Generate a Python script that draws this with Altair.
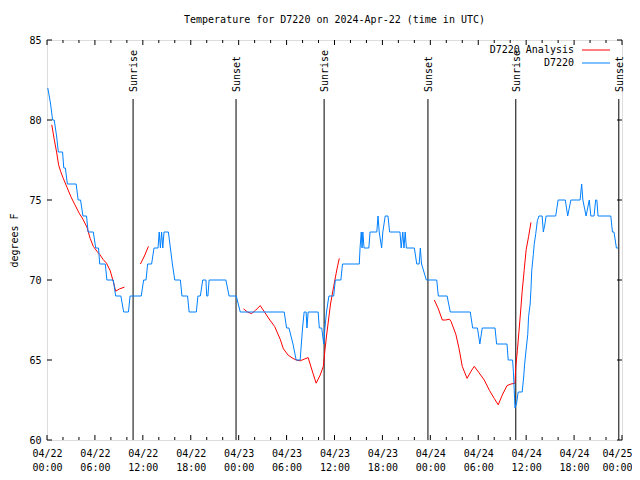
import json
import altair as alt
import pandas as pd

TITLE = "Temperature for D7220 on 2024-Apr-22 (time in UTC)"
Y_TITLE = "degrees F"
SERIES = ["D7220 Analysis", "D7220"]
COLORS = ["#ff0000", "#0080ff"]
FONT = "DejaVu Sans Mono"

# hours since 2024-04-22 00:00 UTC
BLUE_H = [0.1, 0.45, 0.7, 0.9, 1.2, 1.42, 1.95, 2.1, 2.3, 2.55, 3.65, 3.9, 4.2, 4.5, 4.95,
          5.15, 5.8, 6.1, 6.45, 6.6, 7.3, 7.5, 8.3, 8.6, 9.25, 9.6, 10.2, 10.4, 11.8, 12.1,
          12.4, 12.6, 13.1, 13.4, 13.9, 14.05, 14.2, 14.35, 14.5, 14.65, 15.2, 15.45, 15.7,
          16.0, 16.7, 16.9, 17.6, 17.8, 18.7, 18.9, 19.2, 19.5, 19.9, 20.0, 20.15, 20.3,
          22.4, 22.8, 23.7, 24.2, 29.7, 30.0, 30.3, 30.8, 31.2, 31.7, 31.85, 32.0, 32.2,
          32.45, 32.55, 32.7, 33.95, 34.1, 34.4, 34.65, 34.8, 35.0, 35.3, 35.9, 36.1, 36.8,
          37.0, 39.1, 39.2, 39.35, 39.45, 39.55, 39.7, 40.3, 40.45, 41.3, 41.45, 41.6, 41.9,
          42.05, 42.35, 42.7, 42.9, 44.2, 44.35, 44.55, 44.7, 44.85, 45.0, 46.0, 46.3, 46.6,
          46.75, 46.9, 47.2, 47.5, 48.8, 49.0, 50.1, 50.5, 53.0, 53.3, 53.9, 54.2, 54.5,
          56.1, 56.3, 57.6, 57.75, 58.3, 58.4, 58.6, 58.8, 59.0, 59.5, 59.7, 59.8, 59.96,
          60.2, 60.3, 60.5, 60.6, 60.7, 60.9, 61.0, 61.2, 61.4, 61.6, 62.0, 62.15, 62.35,
          62.5, 63.7, 64.0, 64.9, 65.2, 65.4, 65.6, 66.75, 66.95, 67.1, 67.3, 67.5, 67.9,
          68.1, 68.5, 68.7, 68.85, 69.0, 70.6, 70.8, 71.0, 71.3, 71.5]
BLUE_T = [82, 81, 80, 80, 79, 78, 78, 77, 77, 76, 76, 75, 75, 74, 74,
          73, 73, 72, 72, 71, 71, 70, 70, 69, 69, 68, 68, 69, 69, 70,
          70, 71, 71, 72, 72, 73, 72, 73, 72, 73, 73, 72, 71,
          70, 70, 69, 69, 68, 68, 69, 69, 70, 70, 69, 69, 70,
          70, 69, 69, 68, 68, 67, 67, 66, 65, 65, 66, 67, 68,
          68, 67, 68, 68, 67, 67, 66, 67, 68, 69, 69, 70, 70,
          71, 71, 72, 73, 72, 73, 72, 72, 73, 73, 74, 73, 72,
          73, 74, 74, 73, 73, 72, 73, 72, 73, 72, 72, 71, 71,
          72, 71, 70.5, 70, 70, 69, 69, 68, 68, 67, 67, 66, 67,
          67, 66, 66, 65, 65, 64.3, 62, 62.3, 63, 63, 64, 64.7, 65.5,
          66.6, 67.7, 68.5, 69.4, 70.6, 71.6, 72.2, 72.9, 73.7, 74, 74, 73, 73.5,
          74, 74, 75, 75, 74, 74.5, 75, 75, 76, 75, 74.5, 74, 75,
          74, 74, 75, 75, 74, 74, 73, 73, 72, 72]

RED_H = [0.6, 0.9, 1.2, 1.45, 1.7, 2.0, 2.5, 3.0, 3.5, 4.0, 4.5, 5.0, 5.4, 5.8, 6.25, 6.6,
         7.0, 7.45, 7.9, 8.3, 8.6, 9.1, 9.7,
         11.7, 12.2, 12.7,
         24.6, 25.1, 25.6, 26.1, 26.7, 27.3, 27.9, 28.5, 29.2, 29.6, 30.2, 30.8, 31.2, 31.7,
         32.2, 32.7, 33.1, 33.7, 34.2, 34.6, 34.8, 35.0, 35.2, 35.5, 35.9, 36.2, 36.4, 36.6,
         48.5, 49.0, 49.5, 49.9, 50.4, 50.6, 51.2, 51.6, 52.0, 52.6, 53.1, 53.5, 54.1, 54.75,
         55.4, 56.0, 56.5, 57.0, 57.6, 58.1, 58.6, 58.7, 58.9, 59.1, 59.3, 59.5, 59.75, 60.0,
         60.3, 60.6]
RED_T = [79.7, 78.8, 78.0, 77.2, 76.8, 76.4, 75.8, 75.2, 74.7, 74.2, 73.8, 73.3, 72.6, 72.1,
         71.8, 71.6, 71.3, 71.05, 70.6, 69.9, 69.3, 69.45, 69.55,
         71.0, 71.5, 72.1,
         68.2, 68.0, 67.9, 68.1, 68.4, 67.95, 67.5, 67.1, 66.3, 65.7, 65.3, 65.1, 65.0, 64.95,
         65.05, 65.15, 64.5, 63.55, 64.05, 64.6, 65.6, 66.5, 67.3, 68.5, 69.6, 70.4, 70.9, 71.35,
         68.75, 68.2, 67.5, 67.5, 67.55, 67.4, 66.6, 65.7, 64.6, 63.85, 64.3, 64.6, 64.2, 63.75,
         63.1, 62.6, 62.2, 62.8, 63.4, 63.5, 63.55, 64.6, 65.6, 66.8, 68.0, 69.3, 70.6, 71.9,
         72.7, 73.6]
RED_SEG = [1] * 23 + [2] * 3 + [3] * 28 + [4] * 30

SUN_H = [10.78, 23.67, 34.7, 47.7, 58.7, 71.6]
SUN_LABEL = ["Sunrise", "Sunset", "Sunrise", "Sunset", "Sunrise", "Sunset"]

X_MAJOR = list(range(0, 73, 6))
X_MINOR = [h for h in range(0, 73, 2) if h % 6 != 0]
Y_TICKS = [60, 65, 70, 75, 80, 85]
X_LABELS = ["04/22 00:00", "04/22 06:00", "04/22 12:00", "04/22 18:00",
            "04/23 00:00", "04/23 06:00", "04/23 12:00", "04/23 18:00",
            "04/24 00:00", "04/24 06:00", "04/24 12:00", "04/24 18:00",
            "04/25 00:00"]

W, H = 575, 400

xscale = alt.Scale(domain=[0, 72], nice=False, zero=False)
yscale = alt.Scale(domain=[60, 85], nice=False, zero=False)

XAX = alt.Axis(values=X_MAJOR, ticks=False, domain=False, grid=False, title="",
               labelExpr="split(" + json.dumps(X_LABELS) + "[round(datum.value / 6)], ' ')",
               labelFont=FONT, labelFontSize=10, labelColor="black", labelPadding=8,
               labelLineHeight=14, labelBaseline="top", labelAlign="center",
               labelOffset={"condition": {"test": "datum.value >= 72", "value": -5}, "value": 0},
               labelFlush=False, labelOverlap=False)
YAX = alt.Axis(values=Y_TICKS, ticks=False, domain=False, grid=False, title=Y_TITLE,
               labelFont=FONT, labelFontSize=10, labelColor="black", labelPadding=6,
               titleFont=FONT, titleFontSize=10, titleFontWeight="normal", titleColor="black",
               titleAngle=270, titleX=-33, titleY=200, titleAlign="center",
               titleBaseline="middle")

X = alt.X("h:Q", scale=xscale, axis=XAX)
Y = alt.Y("T:Q", scale=yscale, axis=YAX)

blue_df = pd.DataFrame({"h": BLUE_H, "T": BLUE_T})
red_df = pd.DataFrame({"h": RED_H, "T": RED_T, "seg": RED_SEG})
sun_df = pd.DataFrame({"h": SUN_H, "label": SUN_LABEL})
xmaj_df = pd.DataFrame({"h": X_MAJOR})
xmin_df = pd.DataFrame({"h": X_MINOR})
ytk_df = pd.DataFrame({"T": Y_TICKS})
one = pd.DataFrame({"k": [0]})

layers = []
# tick marks (inward, mirrored)
layers.append(alt.Chart(xmaj_df).mark_rule(color="black", strokeWidth=1).encode(x=X, y=alt.value(H), y2=alt.value(H - 5)))
layers.append(alt.Chart(xmaj_df).mark_rule(color="black", strokeWidth=1).encode(x=X, y=alt.value(0), y2=alt.value(5)))
layers.append(alt.Chart(xmin_df).mark_rule(color="black", strokeWidth=1).encode(x=X, y=alt.value(H), y2=alt.value(H - 3)))
layers.append(alt.Chart(xmin_df).mark_rule(color="black", strokeWidth=1).encode(x=X, y=alt.value(0), y2=alt.value(3)))
layers.append(alt.Chart(ytk_df).mark_rule(color="black", strokeWidth=1).encode(y=Y, x=alt.value(0), x2=alt.value(5)))
layers.append(alt.Chart(ytk_df).mark_rule(color="black", strokeWidth=1).encode(y=Y, x=alt.value(W), x2=alt.value(W - 5)))

# sunrise / sunset markers
layers.append(alt.Chart(sun_df).mark_rule(color="black", strokeWidth=1).encode(x=X, y=alt.value(59), y2=alt.value(H)))
layers.append(alt.Chart(sun_df).mark_text(angle=270, align="left", baseline="middle", font=FONT,
                                          fontSize=10, color="black", dy=1).encode(
    x=X, y=alt.value(52), text="label:N"))

# data lines
layers.append(alt.Chart(red_df).mark_line(color=COLORS[0], strokeWidth=1).encode(x=X, y=Y, detail="seg:N"))
layers.append(alt.Chart(blue_df).mark_line(color=COLORS[1], strokeWidth=1).encode(x=X, y=Y))

# legend (top right, inside)
for i, name in enumerate(SERIES):
    ly = 10 + 13 * i
    layers.append(alt.Chart(one).mark_text(align="right", baseline="middle", font=FONT, fontSize=10,
                                           color="black", text=name).encode(
        x=alt.value(527), y=alt.value(ly)))
    layers.append(alt.Chart(one).mark_rule(color=COLORS[i], strokeWidth=1).encode(
        x=alt.value(535), x2=alt.value(563), y=alt.value(ly)))

chart = alt.layer(*layers).properties(
    width=W, height=H,
    title=alt.TitleParams(TITLE, font=FONT, fontSize=10, fontWeight="normal", color="black",
                          anchor="middle", offset=10),
    autosize=alt.AutoSizeParams(type="none"),
    padding={"left": 39, "top": 32, "right": 10, "bottom": 32},
    background="white",
).configure_view(stroke="black", strokeWidth=1).configure(font=FONT)

chart.save("out.html", embed_options={"renderer": "svg", "actions": False})
